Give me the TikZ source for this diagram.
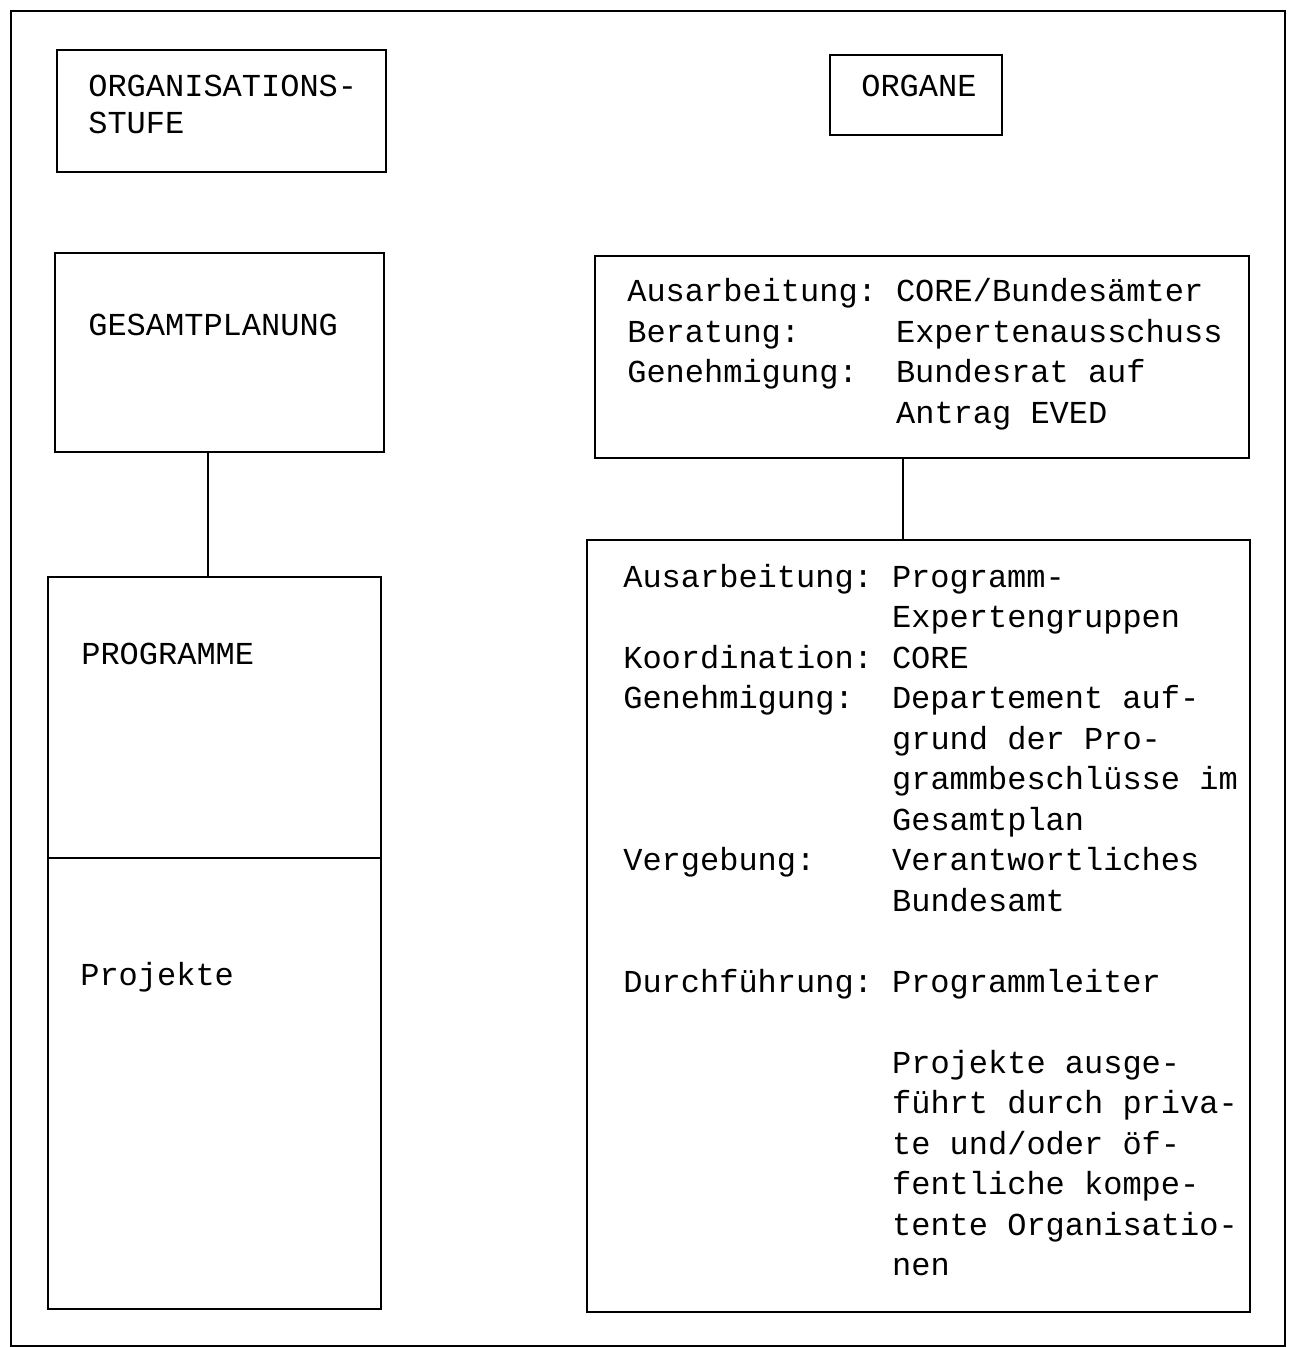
\documentclass[tikz,border=0pt]{standalone}
\usepackage{fontspec}
\newfontfamily\typefamily{Liberation Mono}
\usepackage{tikz}

\begin{document}
\begin{tikzpicture}[
  x=0.5pt, y=-0.5pt,
  line width=1.3pt,
  box/.style={draw, anchor=north west, inner sep=0pt, outer sep=0pt},
  label/.style={anchor=base west, inner sep=0pt,
    font=\typefamily\fontsize{16}{20.25}\selectfont},
  link/.style={line width=1.2pt}
]
\useasboundingbox (0,0) rectangle (1291,1347);
\draw (11,11) rectangle (1285,1346);

\node[box, minimum width=164.5pt, minimum height=61pt] (stufe) at (57,50) {};
\node[box, minimum width=86pt, minimum height=40pt] (organe) at (830,55) {};
\node[box, minimum width=164.5pt, minimum height=99.5pt] (gesamt) at (55,253) {};
\node[box, minimum width=166.5pt, minimum height=140.5pt] (prog) at (48,577) {};
\node[box, minimum width=166.5pt, minimum height=225.5pt] (proj) at (48,858) {};
\node[box, minimum width=327pt, minimum height=101pt] (plan) at (595,256) {};
\node[box, minimum width=331.5pt, minimum height=386pt] (detail) at (587,540) {};

\node[label] (stufetext) at (87,97) {\begin{tabular}[t]{@{}l@{}}
  ORGANISATIONS-\\[-1.75pt] STUFE\end{tabular}};
\node[label] (organetext) at (860,97) {ORGANE};
\node[label] (gesamttext) at (87,336) {GESAMTPLANUNG};
\node[label] (progtext) at (80,664) {PROGRAMME};
\node[label] (projtext) at (79,985) {Projekte};

\node[label] (plantext) at (626,302) {\begin{tabular}[t]{@{}p{8.4em}@{}l@{}}
  Ausarbeitung: & CORE/Bundesämter\\
  Beratung: & Expertenausschuss\\
  Genehmigung: & Bundesrat auf\\
  & Antrag EVED
\end{tabular}};

\node[label] (detailtext) at (622,587) {\begin{tabular}[t]{@{}p{8.4em}@{}l@{}}
  Ausarbeitung: & Programm-\\
  & Expertengruppen\\
  Koordination: & CORE\\
  Genehmigung: & Departement auf-\\
  & grund der Pro-\\
  & grammbeschlüsse im\\
  & Gesamtplan\\
  Vergebung: & Verantwortliches\\
  & Bundesamt\\
  & \\
  Durchführung: & Programmleiter\\
  & \\
  & Projekte ausge-\\
  & führt durch priva-\\
  & te und/oder öf-\\
  & fentliche kompe-\\
  & tente Organisatio-\\
  & nen
\end{tabular}};

\draw[link] ([xshift=-5.75pt]gesamt.south) -- ([xshift=-5.75pt]gesamt.south |- prog.north);
\draw[link] ([xshift=-9.5pt]plan.south) -- ([xshift=-9.5pt]plan.south |- detail.north);
\end{tikzpicture}
\end{document}
